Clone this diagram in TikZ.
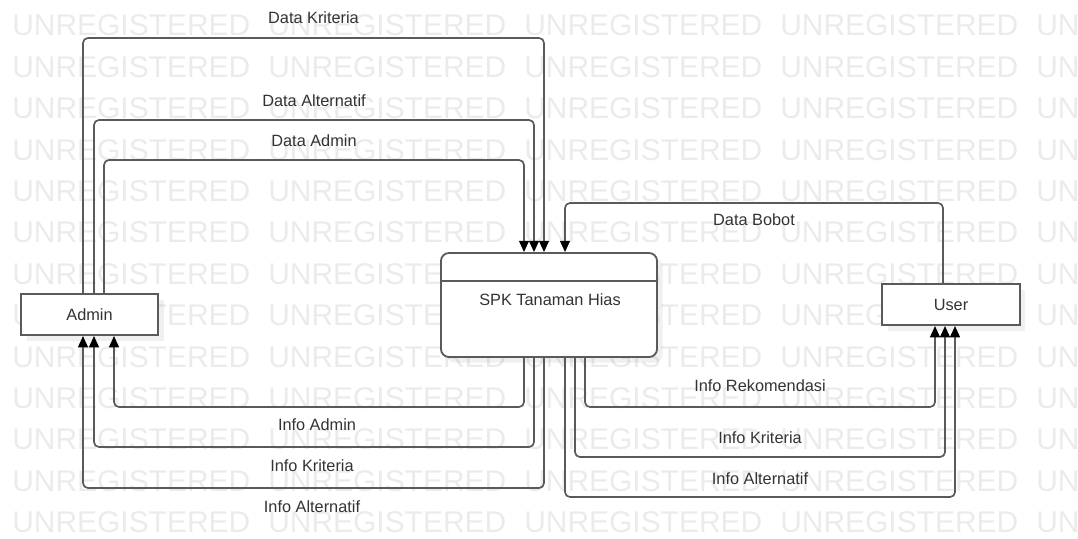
\documentclass[tikz,border=0pt]{standalone}
\usepackage{fontspec}
\setmainfont{Liberation Sans}
\usetikzlibrary{arrows.meta,shadows}
\definecolor{wmgray}{HTML}{EBEBEB}
\definecolor{linegray}{HTML}{5A5A5A}
\definecolor{txtgray}{HTML}{333333}

\begin{document}
\begin{tikzpicture}[
            x=0.025cm, y=-0.025cm,
            entity/.style={draw=linegray, line width=1.3pt, fill=white, minimum width=3.43cm, minimum height=1.03cm,
                font=\fontsize{11.6}{13}\selectfont, text=txtgray,
                drop shadow={shadow xshift=4pt, shadow yshift=-4pt, fill=black, opacity=0.06}},
            process/.style={draw=linegray, line width=1.3pt, fill=white, rounded corners=0.2cm,
                minimum width=5.4cm, minimum height=2.6cm,
                drop shadow={shadow xshift=4pt, shadow yshift=-4pt, fill=black, opacity=0.06}},
            flow/.style={draw=linegray, line width=1.2pt, rounded corners=3.5pt,
                -{Triangle[length=8pt, width=7pt, color=black]}},
            lbl/.style={font=\fontsize{11.6}{13}\selectfont, text=txtgray, inner sep=0pt},
            wm/.style={font=\fontsize{21.3}{24}\selectfont, text=wmgray, anchor=west, inner sep=0pt}
        ]
            \useasboundingbox (0,0) rectangle (1078,539);
            \clip (0,0) rectangle (1078,539);

            % watermark
            \foreach \r in {0,...,12}{
                \foreach \c in {0,...,4}{
                    \node[wm] (wm-\r-\c) at ({12+256*\c},{25.5+41.4*\r}) {UNREGISTERED};
                }
            }

            \node[entity] (admin) at (89.5,314.5) {Admin};
            \node[process] (spk) at (549,305) {};
            \node[entity] (user) at (951,304.5) {User};
            \draw[draw=linegray, line width=1.3pt] ([yshift=-0.725cm]spk.north west) -- ([yshift=-0.725cm]spk.north east);
            \node[lbl] (spk-title) at (550,300) {SPK Tanaman Hias};

            % admin -> spk
            \draw[flow] (admin.north -| 83,0) |- (544,38) -- (spk.north -| 544,0);
            \draw[flow] (admin.north -| 94,0) |- (534,120) -- (spk.north -| 534,0);
            \draw[flow] (admin.north -| 104,0) |- (524,160) -- (spk.north -| 524,0);
            \node[lbl] (l-dkrit) at (313.5,18) {Data Kriteria};
            \node[lbl] (l-dalt) at (314,101) {Data Alternatif};
            \node[lbl] (l-dadm) at (314,141) {Data Admin};

            % user -> spk
            \draw[flow] (user.north -| 943,0) |- (565,203) -- (spk.north -| 565,0);
            \node[lbl] (l-dbob) at (754,220) {Data Bobot};

            % spk -> admin
            \draw[flow] (spk.south -| 524,0) |- (114,407) -- (admin.south -| 114,0);
            \draw[flow] (spk.south -| 534,0) |- (94,447) -- (admin.south -| 94,0);
            \draw[flow] (spk.south -| 544,0) |- (83,488) -- (admin.south -| 83,0);
            \node[lbl] (l-iadm) at (317,425) {Info Admin};
            \node[lbl] (l-ikrit) at (312,466) {Info Kriteria};
            \node[lbl] (l-ialt) at (312,507) {Info Alternatif};

            % spk -> user
            \draw[flow] (spk.south -| 585,0) |- (935,407) -- (user.south -| 935,0);
            \draw[flow] (spk.south -| 575,0) |- (945,457) -- (user.south -| 945,0);
            \draw[flow] (spk.south -| 565,0) |- (955,497) -- (user.south -| 955,0);
            \node[lbl] (l-irek) at (760,386) {Info Rekomendasi};
            \node[lbl] (l-ikrit2) at (760,438) {Info Kriteria};
            \node[lbl] (l-ialt2) at (760,479) {Info Alternatif};
        \end{tikzpicture}
\end{document}
